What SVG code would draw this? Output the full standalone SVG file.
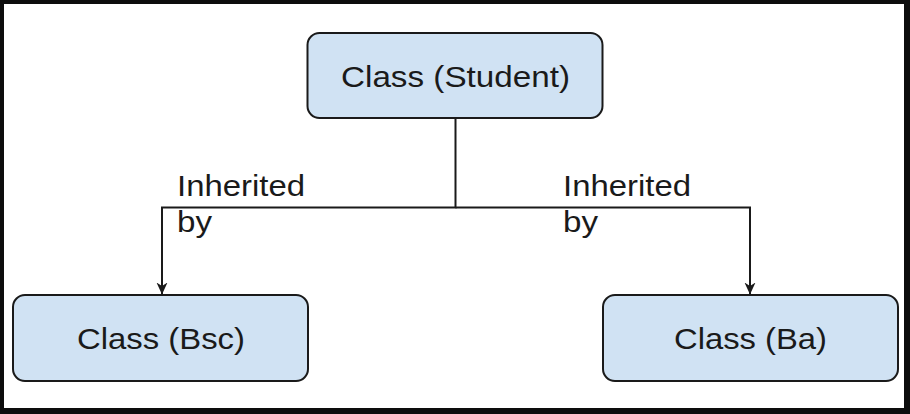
<svg xmlns="http://www.w3.org/2000/svg" width="910" height="414" viewBox="0 0 910 414">
  <style>
    .node { fill: #d0e2f3; stroke: #1a1a1a; stroke-width: 2; }
    .label { font-family: "Liberation Sans", Arial, sans-serif; font-size: 30px; fill: #1a1a1a; }
    .edge { fill: none; stroke: #1a1a1a; stroke-width: 2; }
    .frame { fill: #0d0d0d; }
  </style>
  <defs>
    <marker id="arrow" viewBox="0 0 12 12" refX="12" refY="6" markerWidth="12" markerHeight="12" markerUnits="userSpaceOnUse" orient="auto">
      <path d="M0,0.5 L12,6 L0,11.5 L3.5,6 Z" fill="#1a1a1a"/>
    </marker>
  </defs>
  <rect x="0" y="0" width="910" height="414" fill="#ffffff"/>
  <g id="frame">
    <rect class="frame" x="0" y="0" width="910" height="4"/>
    <rect class="frame" x="0" y="0" width="4" height="414"/>
    <rect class="frame" x="904" y="0" width="6" height="414"/>
    <rect class="frame" x="0" y="408" width="910" height="6"/>
  </g>
  <g id="connectors">
    <path class="edge" d="M455.5,118 V207.5 H162 V294.5" marker-end="url(#arrow)"/>
    <path class="edge" d="M455.5,207.5 H750 V294.5" marker-end="url(#arrow)"/>
    <text class="label" x="177" y="196" textLength="128" lengthAdjust="spacingAndGlyphs">Inherited</text>
    <text class="label" x="177" y="232" textLength="35" lengthAdjust="spacingAndGlyphs">by</text>
    <text class="label" x="563" y="196" textLength="128" lengthAdjust="spacingAndGlyphs">Inherited</text>
    <text class="label" x="563" y="232" textLength="35" lengthAdjust="spacingAndGlyphs">by</text>
  </g>
  <g id="node-student">
    <rect class="node" x="307.5" y="33" width="295" height="85" rx="12" ry="12"/>
    <text class="label" x="341" y="87" textLength="229" lengthAdjust="spacingAndGlyphs">Class (Student)</text>
  </g>
  <g id="node-bsc">
    <rect class="node" x="13" y="295" width="295" height="86" rx="12" ry="12"/>
    <text class="label" x="77" y="348.5" textLength="168" lengthAdjust="spacingAndGlyphs">Class (Bsc)</text>
  </g>
  <g id="node-ba">
    <rect class="node" x="603" y="295" width="295" height="86" rx="12" ry="12"/>
    <text class="label" x="674" y="349" textLength="153" lengthAdjust="spacingAndGlyphs">Class (Ba)</text>
  </g>
</svg>
